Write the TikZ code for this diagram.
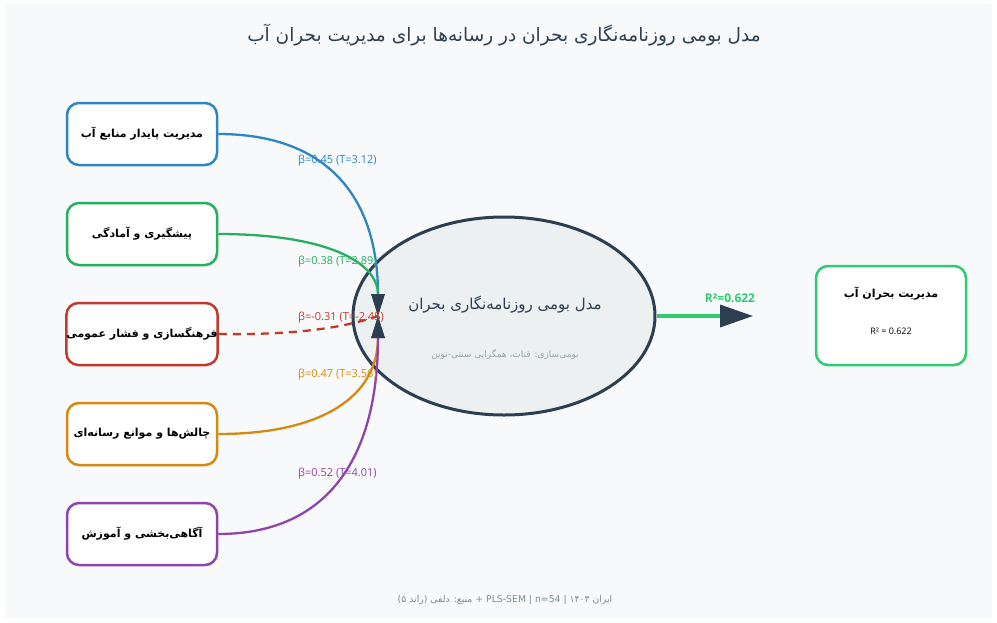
\documentclass[tikz,border=0pt]{standalone}
\usepackage{fontspec}
\setmainfont{Open Sans}
\newfontfamily\fa[Script=Arabic]{DejaVu Sans}
\TeXXeTstate=1
\usetikzlibrary{arrows.meta,shapes.geometric,calc}

\definecolor{bgc}{HTML}{F7F9FB}
\definecolor{dark}{HTML}{2C3E50}
\definecolor{ellf}{HTML}{ECF0F1}
\definecolor{cblue}{HTML}{2E86C1}
\definecolor{cgreen}{HTML}{27AE60}
\definecolor{cred}{HTML}{C0392B}
\definecolor{corange}{HTML}{D68910}
\definecolor{cpurple}{HTML}{8E44AD}
\definecolor{cgreenb}{HTML}{2ECC71}
\definecolor{cgrey}{HTML}{95A5A6}
\definecolor{cfoot}{HTML}{7F8C8D}

\tikzset{
  factor/.style={draw, rounded corners=12pt, line width=2.5pt, fill=white,
    minimum width=150pt, minimum height=62pt, inner sep=0pt,
    font=\fa\bfseries\fontsize{11}{13}\selectfont, text=black},
  link/.style={line width=2.3pt},
  downtip/.style={-{Triangle[length=22pt,width=13pt,color=dark]}},
  coef/.style={anchor=west, inner sep=0pt, font=\fontsize{11}{13}\selectfont}
}
% quadratic bend from a box's east side into the hub (as an equivalent cubic)
\newcommand\bendto[3]{%
  \draw[link, #2, downtip] (#1.east)
    .. controls ($(#1.east)!0.667!(#1.east -| #3)$) and ($(#3)!0.667!(#1.east -| #3)$)
    .. (#3);}

\begin{document}
\begin{tikzpicture}[x=1pt,y=-1pt]
\useasboundingbox (0,0) rectangle (997,622);
\fill[bgc] (5,4) rectangle (992,618);

% title
\node[text=dark, font=\fa\fontsize{18.5}{22}\selectfont] (title) at (504,35)
  {\beginR مدل بومی روزنامه‌نگاری بحران در رسانه‌ها برای مدیریت بحران آب\endR};

% central construct
\node[ellipse, draw=dark, line width=3pt, fill=ellf,
      minimum width=302pt, minimum height=198pt] (core) at (504,316) {};
\node[text=dark, font=\fa\fontsize{15}{17}\selectfont] (coret) at (505,305)
  {\beginR مدل بومی روزنامه‌نگاری بحران\endR};
\node[text=cgrey, font=\fa\fontsize{9}{11}\selectfont] (cores) at (505,355)
  {\beginR بومی‌سازی: قنات، همگرایی سنتی-نوین\endR};

% predictor boxes
\node[factor, draw=cblue]   (b1) at (142,134) {\beginR مدیریت پایدار منابع آب\endR};
\node[factor, draw=cgreen]  (b2) at (142,234) {\beginR پیشگیری و آمادگی\endR};
\node[factor, draw=cred]    (b3) at (142,334) {\beginR فرهنگسازی و فشار عمومی\endR};
\node[factor, draw=corange] (b4) at (142,434) {\beginR چالش‌ها و موانع رسانه‌ای\endR};
\node[factor, draw=cpurple] (b5) at (142,534) {\beginR آگاهی‌بخشی و آموزش\endR};

% all paths meet here
\coordinate (hub) at (378,316);

% paths into the construct
\bendto{b1}{cblue}{hub}
\bendto{b2}{cgreen}{hub}
\draw[link, cred, dash pattern=on 8pt off 6pt]
  (b3.east) .. controls (290,335) and (340,329) .. (hub);
\bendto{b4}{corange}{hub}
\bendto{b5}{cpurple}{hub}

% path coefficients
\node[coef, text=cblue]   (c1) at (298,161) {β=0.45 (T=3.12)};
\node[coef, text=cgreen]  (c2) at (298,262) {β=0.38 (T=2.89)};
\node[coef, text=cred]    (c3) at (298,318) {β=-0.31 (T=-2.45)};
\node[coef, text=corange] (c4) at (298,375) {β=0.47 (T=3.56)};
\node[coef, text=cpurple] (c5) at (298,474) {β=0.52 (T=4.01)};

% outcome
\coordinate (rt) at (753,316);
\draw[cgreenb, line width=3.5pt, -{Triangle[length=33pt,width=22pt,color=dark]}]
  (core.east) -- (rt);
\node[text=cgreenb, font=\bfseries\fontsize{12}{14}\selectfont] (r2) at (730,298) {R²=0.622};

\node[draw=cgreenb, rounded corners=12pt, line width=2.5pt, fill=white,
      minimum width=150pt, minimum height=99pt] (out) at (891,315.5) {};
\node[text=black, font=\fa\bfseries\fontsize{11}{13}\selectfont] (outt) at (891,294)
  {\beginR مدیریت بحران آب\endR};
\node[text=black, font=\fontsize{9}{11}\selectfont] (outr) at (891,331) {R² = 0.622};

% footer
\node[text=cfoot, font=\fa\fontsize{9.3}{11}\selectfont] (foot) at (505,600)
  {\beginR ایران ۱۴۰۳ | \beginL n=54\endL{} | \beginL PLS-SEM\endL{} + منبع: دلفی (راند ۵)\endR};
\end{tikzpicture}
\end{document}
